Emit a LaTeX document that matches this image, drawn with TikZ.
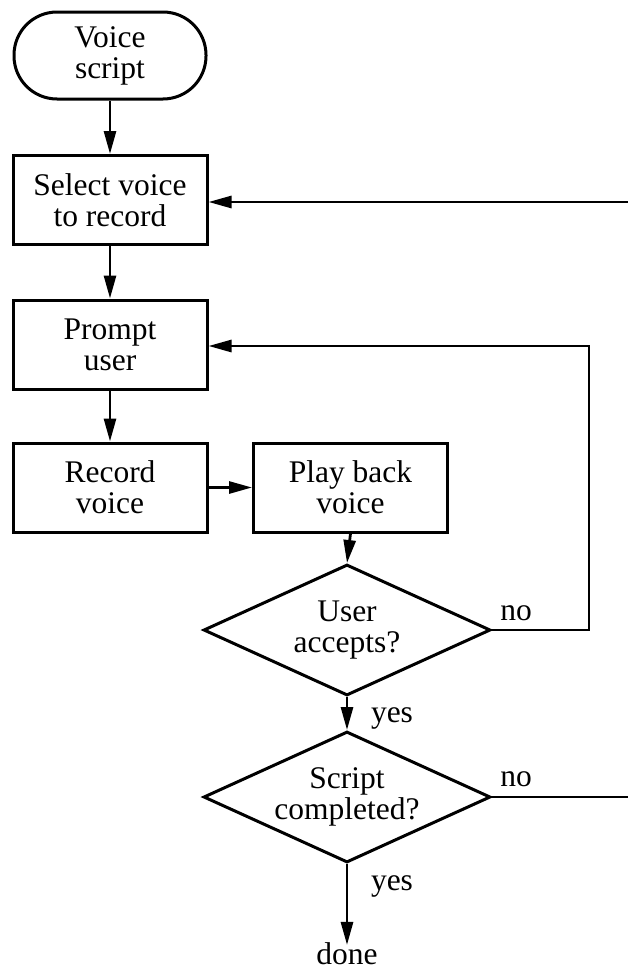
\documentclass[tikz,border=0pt]{standalone}
\usepackage{fontspec}
\setmainfont{Liberation Serif}
\usetikzlibrary{shapes.geometric,arrows.meta}
\begin{document}
\begin{tikzpicture}[x=1pt,y=-1pt,
  every node/.style={font=\fontsize{31.5}{31}\selectfont, align=center},
  proc/.style={draw, line width=3pt, minimum width=194pt, minimum height=89pt, inner sep=0pt},
  term/.style={draw, line width=3pt, rounded corners=43pt, minimum width=192pt, minimum height=87pt, inner sep=0pt},
  dec/.style={draw, diamond, aspect=2.19, line width=3pt, minimum width=287pt, minimum height=131pt, inner sep=0pt},
  lbl/.style={inner sep=0pt},
  conn/.style={line width=2.8pt, -{Triangle[length=23pt,width=12pt]}},
  plain/.style={line width=2.8pt}]
\useasboundingbox (0,0) rectangle (627,969);
\node[term] (vs) at (110,55.5) {Voice\\script};
\node[proc] (sel) at (110,200) {Select voice\\to record};
\node[proc] (pr) at (110,344.5) {Prompt\\user};
\node[proc] (rec) at (110,487.5) {Record\\voice};
\node[proc] (play) at (350.5,487.5) {Play back\\voice};
\node[dec] (d1) at (347,630) {User\\accepts?};
\node[dec] (d2) at (347,797) {Script\\completed?};
\node[lbl, anchor=base] (done) at (347,964) {done};
\node[lbl, anchor=base] (no1) at (516,620) {no};
\node[lbl, anchor=base] (no2) at (516,786) {no};
\node[lbl, anchor=base] (yes1) at (392,722) {yes};
\node[lbl, anchor=base] (yes2) at (392,890) {yes};
\coordinate (r1) at (628,202);
\coordinate (r2) at (628,797);
\coordinate (c1) at (589,630);
\draw[conn] (vs.south) -- (sel.north);
\draw[conn] (r1) -- (sel.east |- r1);
\draw[conn] (sel.south) -- (pr.north);
\draw[conn] (d1.east) -- (c1) |- (pr.east |- 0,346);
\draw[conn] (pr.south) -- (rec.north);
\draw[conn] (rec.east) -- (play.west);
\draw[conn] (play.south) -- (d1.north);
\draw[conn] (d1.south) -- (d2.north);
\draw[plain] (d2.east) -- (r2);
\draw[conn] (d2.south) -- ([yshift=-3pt]done.north);
\end{tikzpicture}
\end{document}
